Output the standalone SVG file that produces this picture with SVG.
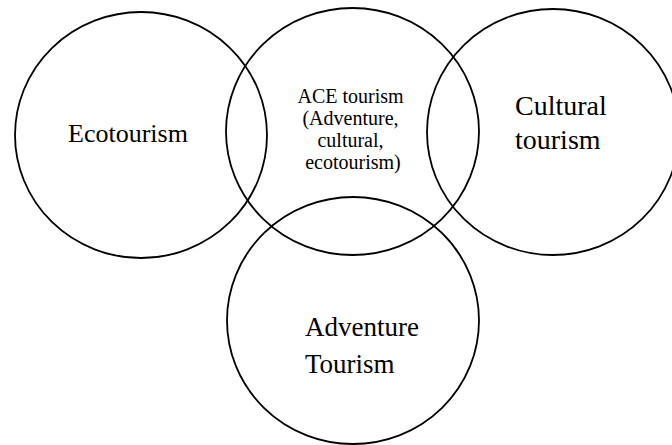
<svg xmlns="http://www.w3.org/2000/svg" width="672" height="445" viewBox="0 0 672 445">
  <style>
    .ring { fill: none; stroke: #000; stroke-width: 1.8; }
    .lbl { font-family: "Liberation Serif", "Times New Roman", serif; fill: #000; }
  </style>
  <rect width="672" height="445" fill="#fff"/>
  <g id="ecotourism">
    <ellipse class="ring" cx="141" cy="135" rx="126" ry="123"/>
    <text class="lbl" x="128" y="142" font-size="26" text-anchor="middle">Ecotourism</text>
  </g>
  <g id="ace-tourism">
    <ellipse class="ring" cx="352.5" cy="131.5" rx="126.5" ry="123.5"/>
    <text class="lbl" font-size="20" text-anchor="middle">
      <tspan x="353" y="103">ACE tourism</tspan>
      <tspan x="353" y="125">(Adventure,</tspan>
      <tspan x="353" y="147">cultural,</tspan>
      <tspan x="353" y="169">ecotourism)</tspan>
    </text>
  </g>
  <g id="cultural-tourism">
    <ellipse class="ring" cx="553" cy="132" rx="126" ry="123"/>
    <text class="lbl" font-size="28">
      <tspan x="515" y="115">Cultural</tspan>
      <tspan x="515" y="149">tourism</tspan>
    </text>
  </g>
  <g id="adventure-tourism">
    <ellipse class="ring" cx="353" cy="320.5" rx="126" ry="123.5"/>
    <text class="lbl" font-size="27">
      <tspan x="305" y="336">Adventure</tspan>
      <tspan x="305" y="373">Tourism</tspan>
    </text>
  </g>
</svg>
